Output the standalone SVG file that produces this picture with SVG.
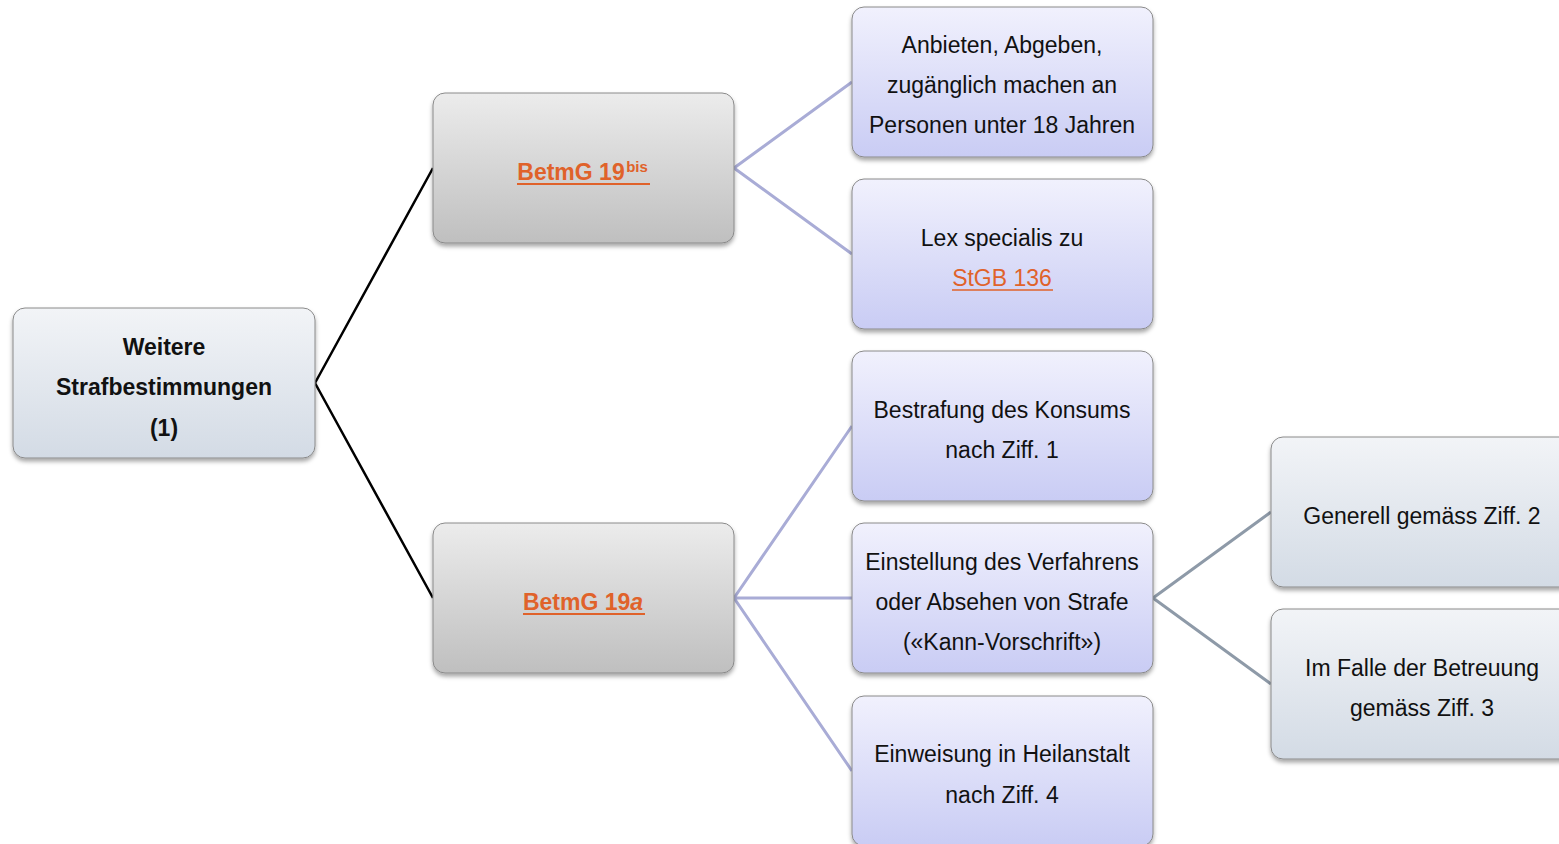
<svg xmlns="http://www.w3.org/2000/svg" width="1559" height="844" viewBox="0 0 1559 844">
<defs>
<linearGradient id="gBlue" x1="0" y1="0" x2="0" y2="1"><stop offset="0" stop-color="#f2f4f7"/><stop offset="1" stop-color="#d3dbe5"/></linearGradient>
<linearGradient id="gGray" x1="0" y1="0" x2="0" y2="1"><stop offset="0" stop-color="#ececec"/><stop offset="1" stop-color="#bfbfbf"/></linearGradient>
<linearGradient id="gLav" x1="0" y1="0" x2="0" y2="1"><stop offset="0" stop-color="#f1f1fd"/><stop offset="1" stop-color="#c9ccf4"/></linearGradient>
<filter id="sh" x="-10%" y="-10%" width="120%" height="130%"><feDropShadow dx="0" dy="3" stdDeviation="2" flood-color="#000" flood-opacity="0.35"/></filter>
</defs>
<style>
.box{stroke:#8a8a8a;stroke-width:1;filter:url(#sh)}
.blue{fill:url(#gBlue)}.gray{fill:url(#gGray)}.lav{fill:url(#gLav)}
text{font-family:"Liberation Sans",Arial,sans-serif;font-size:23px;fill:#111;text-anchor:middle}
.b{font-weight:bold}
.or{fill:#e0622a}
.ul{stroke:#e0622a;stroke-width:2}
.c1{stroke:#000;stroke-width:2.5;fill:none}
.c2{stroke:#a9acd6;stroke-width:3;fill:none}
.c3{stroke:#8e9aa8;stroke-width:3;fill:none}
</style>
<g id="connectors">
<path class="c1" d="M315 383 L433 168 M315 383 L433 598"/>
<path class="c2" d="M734 168 L852 82 M734 168 L852 254"/>
<path class="c2" d="M734 598 L852 426 M734 598 L852 598 M734 598 L852 771"/>
<path class="c3" d="M1153 598 L1271 512 M1153 598 L1271 684"/>
</g>
<g id="root">
<rect class="box blue" x="13" y="308" width="302" height="150" rx="12"/>
<text class="b" x="164" y="355">Weitere</text>
<text class="b" x="164" y="395">Strafbestimmungen</text>
<text class="b" x="164" y="436">(1)</text>
</g>
<g id="betmg19bis">
<rect class="box gray" x="433" y="93" width="301" height="150" rx="12"/>
<text class="b or" x="571" y="180">BetmG 19</text>
<text class="b or" x="637" y="172" style="font-size:15px">bis</text>
<line class="ul" x1="517" y1="184" x2="650" y2="184"/>
</g>
<g id="betmg19a">
<rect class="box gray" x="433" y="523" width="301" height="150" rx="12"/>
<text class="b or" x="583" y="610">BetmG 19<tspan font-style="italic">a</tspan></text>
<line class="ul" x1="523" y1="614" x2="645" y2="614"/>
</g>
<g id="anbieten">
<rect class="box lav" x="852" y="7" width="301" height="150" rx="12"/>
<text x="1002" y="53">Anbieten, Abgeben,</text>
<text x="1002" y="93">zugänglich machen an</text>
<text x="1002" y="133">Personen unter 18 Jahren</text>
</g>
<g id="lex">
<rect class="box lav" x="852" y="179" width="301" height="150" rx="12"/>
<text x="1002" y="246">Lex specialis zu</text>
<text class="or" x="1002" y="286">StGB 136</text>
<line class="ul" x1="952" y1="290" x2="1053" y2="290" style="stroke-width:1.5"/>
</g>
<g id="bestrafung">
<rect class="box lav" x="852" y="351" width="301" height="150" rx="12"/>
<text x="1002" y="418">Bestrafung des Konsums</text>
<text x="1002" y="458">nach Ziff. 1</text>
</g>
<g id="einstellung">
<rect class="box lav" x="852" y="523" width="301" height="150" rx="12"/>
<text x="1002" y="570">Einstellung des Verfahrens</text>
<text x="1002" y="610">oder Absehen von Strafe</text>
<text x="1002" y="650">(«Kann-Vorschrift»)</text>
</g>
<g id="einweisung">
<rect class="box lav" x="852" y="696" width="301" height="150" rx="12"/>
<text x="1002" y="762">Einweisung in Heilanstalt</text>
<text x="1002" y="803">nach Ziff. 4</text>
</g>
<g id="generell">
<rect class="box blue" x="1271" y="437" width="301" height="150" rx="12"/>
<text x="1422" y="524">Generell gemäss Ziff. 2</text>
</g>
<g id="betreuung">
<rect class="box blue" x="1271" y="609" width="301" height="150" rx="12"/>
<text x="1422" y="676">Im Falle der Betreuung</text>
<text x="1422" y="716">gemäss Ziff. 3</text>
</g>
</svg>
